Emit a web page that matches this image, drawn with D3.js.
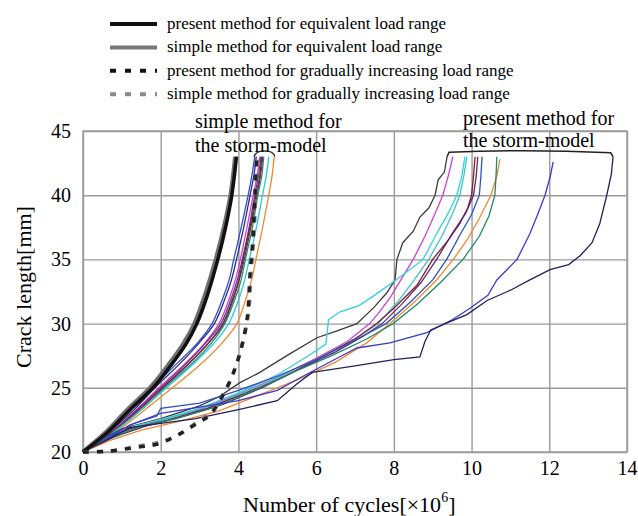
<!DOCTYPE html>
<html>
<head>
<meta charset="utf-8">
<script src="https://cdn.jsdelivr.net/npm/d3@7"></script>
</head>
<body style="margin:0;background:#fff">
<script>
const FONT = "Liberation Serif";

// axis ticks
const xTicks = [0, 2, 4, 6, 8, 10, 12, 14];
const yTicks = [20, 25, 30, 35, 40, 45];

// equivalent load range (thick solid)
const presentEquiv = [[0,20],[0.62,21.5],[1.21,23.3],[1.8,25],[2.3,26.9],[2.65,28.4],[2.93,30],[3.2,32.2],[3.47,35],[3.67,37.5],[3.83,40],[3.95,43]];
const simpleEquiv = [[0,20],[0.58,21.5],[1.15,23.3],[1.73,25],[2.23,26.9],[2.58,28.4],[2.87,30],[3.14,32.2],[3.42,35],[3.63,37.5],[3.8,40],[3.92,43]];

// gradually increasing load range (dashed)
const presentGradual = [[0,20],[0.6,20.05],[1.47,20.4],[1.9,20.6],[2.3,21.1],[2.97,22.3],[3.27,22.9],[3.7,25],[3.99,27.2],[4.22,30.3],[4.3,33.9],[4.37,36.5],[4.43,40.2],[4.47,43]];
const simpleGradual = [[0,20],[0.7,20.1],[1.5,20.5],[2,20.8],[2.5,21.4],[3,22.5],[3.35,23.3],[3.75,25.3],[4.03,27.6],[4.25,30.6],[4.33,34],[4.4,36.8],[4.45,40.3],[4.49,43]];

// simple method for the storm-model
const simpleStorm = [
  { color: "#3050c8", values: [[0,20],[0.4,21],[0.8,22.1],[1.3,23.5],[1.78,25],[2.42,26.9],[2.92,28.4],[3.32,30],[3.6,32],[3.76,33.4],[3.88,35],[4.08,37.6],[4.25,40],[4.35,41.6],[4.42,43]] },
  { color: "#2a2a90", values: [[0,20],[0.45,21],[0.85,22],[1.35,23.4],[1.85,25],[2.5,26.9],[2.99,28.5],[3.38,30],[3.66,32],[3.82,33.4],[3.95,35],[4.13,37.4],[4.3,40],[4.4,41.6],[4.46,43]] },
  { color: "#cc44cc", values: [[0,20],[0.5,21],[0.9,22],[1.45,23.5],[1.95,25],[2.6,26.8],[3.11,28.4],[3.5,30],[3.77,32],[3.93,33.5],[4.05,35],[4.22,37.5],[4.38,40],[4.48,41.5],[4.55,43]] },
  { color: "#7a2a9a", values: [[0,20],[0.5,21],[0.92,22],[1.5,23.6],[2,25],[2.66,26.9],[3.16,28.5],[3.55,30],[3.82,32],[3.98,33.5],[4.1,35],[4.27,37.4],[4.42,40],[4.52,41.6],[4.58,43]] },
  { color: "#404040", values: [[0,20],[0.52,21],[0.95,22],[1.52,23.5],[2.05,25],[2.7,26.8],[3.21,28.4],[3.6,30],[3.86,32],[4.01,33.4],[4.12,35],[4.3,37.6],[4.45,40],[4.55,41.5],[4.6,43]] },
  { color: "#802535", values: [[0,20],[0.5,21],[0.95,22],[1.55,23.6],[2.05,25],[2.72,26.9],[3.23,28.5],[3.62,30],[3.88,32],[4.03,33.5],[4.15,35],[4.32,37.5],[4.48,40],[4.57,41.6],[4.63,43]] },
  { color: "#20907a", values: [[0,20],[0.55,21],[0.97,22],[1.58,23.5],[2.1,25],[2.77,26.8],[3.28,28.4],[3.65,30],[3.92,32],[4.07,33.4],[4.18,35],[4.36,37.5],[4.5,40],[4.6,41.5],[4.65,43]] },
  { color: "#30c8d8", values: [[0,20],[0.55,21],[1,22],[1.62,23.6],[2.15,25],[2.85,26.9],[3.38,28.5],[3.75,30],[4.02,32],[4.17,33.5],[4.28,35],[4.47,37.6],[4.62,40],[4.72,41.6],[4.78,43]] },
  { color: "#f08a30", values: [[0,20],[0.6,21],[1.05,22],[1.72,23.6],[2.3,25],[3.05,26.9],[3.58,28.5],[3.96,30],[4.2,32],[4.34,33.4],[4.45,35],[4.63,37.6],[4.78,40],[4.87,41.6],[4.92,43]] }
];

// present method for the storm-model
const presentStorm = [
  { color: "#3a3a3a", values: [[0,20],[0.5,21],[1,21.8],[2,22.6],[3,23.6],[3.5,24.3],[4.04,25.4],[4.55,26.2],[5.3,27.6],[6.02,28.9],[6.5,29.4],[7.05,30],[7.5,31.3],[7.82,32.4],[8.03,33.4],[8.08,35],[8.23,36.3],[8.5,37.2],[8.67,38.3],[8.9,39],[9.06,40],[9.14,41.2],[9.3,41.8],[9.37,43]] },
  { color: "#d040d0", values: [[0,20],[0.6,21],[1.2,21.9],[2,22.5],[3,23.3],[4,24.5],[5,25.8],[6,27.3],[6.8,28.6],[7.38,30],[7.6,30.8],[7.9,32],[8.2,33.5],[8.5,35],[8.8,36.8],[9.05,38.5],[9.26,40],[9.4,41.5],[9.52,43]] },
  { color: "#30d0e0", values: [[0,20],[0.6,21],[1.3,22],[2.2,22.7],[3,23.4],[4,24.6],[5,26],[5.8,27.5],[6.25,28.4],[6.32,30.3],[6.6,30.9],[7.1,31.4],[7.5,32.2],[8.1,33.5],[8.75,35],[9.1,37],[9.4,38.6],[9.62,40],[9.75,41.5],[9.83,43]] },
  { color: "#40c4c4", values: [[0,20],[0.7,21],[1.5,22],[2.5,22.9],[3.5,23.8],[4.5,25.1],[5.5,26.4],[6.5,28],[7.1,29],[7.6,30],[8.1,31.7],[8.5,33.3],[8.9,35],[9.25,36.9],[9.5,38.5],[9.7,40],[9.8,41.5],[9.88,43]] },
  { color: "#7a2030", values: [[0,20],[0.5,20.9],[1.2,21.8],[2.2,22.5],[3.2,23.4],[4.2,24.6],[5.2,25.9],[6.2,27.5],[7,28.8],[7.56,30],[8,31.2],[8.6,33],[9,35],[9.4,36.5],[9.7,37.8],[9.9,39],[10,40],[10.05,41.5],[10.09,43]] },
  { color: "#5a2a70", values: [[0,20],[0.8,21.2],[1.6,22],[2.6,22.8],[3.6,23.7],[4.6,25],[5.6,26.5],[6.5,27.8],[7.2,29],[7.7,30],[8.2,31.5],[8.7,33.2],[9.1,35],[9.5,37],[9.85,38.6],[10.05,40],[10.12,41.5],[10.16,43]] },
  { color: "#3050c0", values: [[0,20],[0.5,21],[1.3,22.2],[1.9,22.8],[2,23.4],[3,23.8],[4,24.8],[5,25.9],[6,27.2],[7,28.7],[7.8,30],[8.4,31.6],[9,33.4],[9.36,35],[9.7,36.9],[10,38.5],[10.2,40],[10.24,41.5],[10.27,43]] },
  { color: "#f08a30", values: [[0,20],[0.7,20.9],[1.5,21.7],[2.5,22.4],[3.5,23.2],[4.5,24.4],[5.5,25.6],[6.5,27],[7.3,28.5],[7.9,30],[8.5,31.6],[9.1,33.4],[9.53,35],[9.9,36.6],[10.2,38.2],[10.5,40],[10.65,41.5],[10.73,42.8]] },
  { color: "#208a6a", values: [[0,20],[0.6,21],[1.4,21.9],[2.4,22.6],[3.4,23.5],[4.4,24.8],[5.4,26.2],[6.4,27.5],[7.3,28.8],[7.98,30],[8.6,31.5],[9.2,33.2],[9.78,35],[10.2,36.8],[10.45,38.4],[10.6,40],[10.63,41.5],[10.65,43]] },
  { color: "#3a3ad0", values: [[0,20],[0.5,20.8],[1.2,22.1],[2,23],[3,23.5],[4,24],[5,24.8],[5.6,25.8],[6.6,27.4],[7.05,28.1],[7.9,28.5],[8.85,29.3],[9.5,30.3],[9.96,31.2],[10.42,32.2],[10.65,33.4],[10.91,34.2],[11.17,35],[11.5,37],[11.7,38.5],[11.89,40],[12.02,41.4],[12.1,42.6]] },
  { color: "#22225a", values: [[0,20],[0.6,20.9],[1.2,21.9],[2.9,22.6],[4,23.3],[5,24],[5.5,25.3],[5.9,26.2],[7,26.7],[8,27.2],[8.67,27.4],[8.8,28.6],[8.95,29.5],[9.4,30.1],[9.88,30.7],[10.4,31.8],[11,32.6],[11.5,33.4],[12.02,34.2],[12.5,34.6],[12.8,35.3],[13.1,36.3],[13.3,37.8],[13.48,40],[13.6,41.7],[13.64,43]] }
];

const legendItems = [
  { label: "present method for equivalent load range", color: "#111", dash: null },
  { label: "simple method for equivalent load range", color: "#777", dash: null },
  { label: "present method for gradually increasing load range", color: "#111", dash: "6,9" },
  { label: "simple method for gradually increasing load range", color: "#888", dash: "6,9" }
];

const width = 638, height = 516;
const margin = { top: 131, right: 11, bottom: 64, left: 83 };

const svg = d3.select("body").append("svg")
  .attr("width", width)
  .attr("height", height)
  .attr("font-family", FONT);

const x = d3.scaleLinear().domain([0, 14]).range([margin.left, width - margin.right]);
const y = d3.scaleLinear().domain([20, 45]).range([height - margin.bottom, margin.top]);

// serif face forced on a text node
function serif(sel) {
  sel.attr("font-family", FONT).style("font-family", "'Liberation Serif', serif", "important");
}

// width of a label, with a rough fallback
function textWidth(node, fallback) {
  try {
    const w = node.getComputedTextLength();
    return w > 0 ? w : fallback;
  } catch (e) {
    return fallback;
  }
}

// grid
svg.append("g")
  .attr("transform", `translate(0,${height - margin.bottom})`)
  .call(d3.axisBottom(x).tickValues(xTicks).tickSize(-(y.range()[0] - y.range()[1])).tickFormat(""))
  .call(g => g.select(".domain").remove())
  .selectAll("line").attr("stroke", "#9a9a9a").attr("stroke-width", 1.4);

svg.append("g")
  .attr("transform", `translate(${margin.left},0)`)
  .call(d3.axisLeft(y).tickValues(yTicks).tickSize(-(x.range()[1] - x.range()[0])).tickFormat(""))
  .call(g => g.select(".domain").remove())
  .selectAll("line").attr("stroke", "#9a9a9a").attr("stroke-width", 1.4);

svg.append("rect")
  .attr("x", x(0)).attr("y", y(45))
  .attr("width", x(14) - x(0)).attr("height", y(20) - y(45))
  .attr("fill", "none").attr("stroke", "#9a9a9a").attr("stroke-width", 1.4);

// tick labels
const xAxis = svg.append("g")
  .attr("transform", `translate(0,${height - margin.bottom})`)
  .call(d3.axisBottom(x).tickValues(xTicks).tickSize(0).tickPadding(9));
xAxis.select(".domain").remove();
xAxis.attr("font-family", FONT).attr("font-size", 20).attr("fill", null).attr("text-anchor", null);
xAxis.selectAll("text").attr("fill", null).call(serif)
  .attr("x", function(d) { return -textWidth(this, String(d).length * 10) / 2; });

const yAxis = svg.append("g")
  .attr("transform", `translate(${margin.left},0)`)
  .call(d3.axisLeft(y).tickValues(yTicks).tickSize(0).tickPadding(12));
yAxis.select(".domain").remove();
yAxis.attr("font-family", FONT).attr("font-size", 20).attr("fill", null).attr("text-anchor", null);
yAxis.selectAll("text").attr("fill", null).call(serif)
  .attr("x", function(d) { return -12 - textWidth(this, String(d).length * 10); });

const line = d3.line()
  .x(d => x(d[0]))
  .y(d => y(d[1]));
const smooth = d3.line().curve(d3.curveCatmullRom).x(d => x(d[0])).y(d => y(d[1]));

// storm-model curves
svg.append("g")
  .selectAll("path")
  .data(simpleStorm)
  .join("path")
  .attr("fill", "none")
  .attr("stroke", d => d.color)
  .attr("stroke-width", 1.3)
  .attr("d", d => smooth(d.values));

svg.append("g")
  .selectAll("path")
  .data(presentStorm)
  .join("path")
  .attr("fill", "none")
  .attr("stroke", d => d.color)
  .attr("stroke-width", 1.3)
  .attr("d", d => line(d.values));

// equivalent load range
svg.append("path").datum(simpleEquiv)
  .attr("fill", "none").attr("stroke", "#6e6e6e").attr("stroke-width", 4.5).attr("d", smooth);
svg.append("path").datum(presentEquiv)
  .attr("fill", "none").attr("stroke", "#111").attr("stroke-width", 3.5).attr("d", smooth);

// gradually increasing load range
svg.append("path").datum(simpleGradual)
  .attr("fill", "none").attr("stroke", "#888").attr("stroke-width", 3.5)
  .attr("stroke-dasharray", "6,8").attr("d", smooth);
svg.append("path").datum(presentGradual)
  .attr("fill", "none").attr("stroke", "#222").attr("stroke-width", 3.5)
  .attr("stroke-dasharray", "6,8").attr("d", smooth);

// annotations
const ann = svg.append("g").attr("font-size", 20);
ann.append("text").attr("x", 195).attr("y", 128).text("simple method for");
ann.append("text").attr("x", 195).attr("y", 152).text("the storm-model");
ann.append("text").attr("x", 463).attr("y", 125).text("present method for");
ann.append("text").attr("x", 463).attr("y", 147).text("the storm-model");

// brackets
svg.append("path")
  .attr("fill", "none").attr("stroke", "#222").attr("stroke-width", 1.3)
  .attr("d", `M${x(4.4)},${y(43)} Q${x(4.45)},${y(43.45)} ${x(4.67)},${y(43.45)} Q${x(4.9)},${y(43.45)} ${x(4.94)},${y(43)}`);
svg.append("path")
  .attr("fill", "none").attr("stroke", "#222").attr("stroke-width", 1.5)
  .attr("d", `M${x(9.37)},${y(43)} L${x(9.42)},${y(43.35)} Q${x(11.5)},${y(43.6)} ${x(13.58)},${y(43.3)} L${x(13.64)},${y(43)}`);

// axis titles
const titles = svg.append("g").attr("font-size", 22);
const xMain = titles.append("text").attr("x", 243).attr("y", 512).call(serif).text("Number of cycles[×10");
const w1 = textWidth(xMain.node(), 196);
const xSup = titles.append("text").attr("x", 243 + w1).attr("y", 502).attr("font-size", 14).call(serif).text("6");
const w2 = textWidth(xSup.node(), 7);
titles.append("text").attr("x", 243 + w1 + w2).attr("y", 512).call(serif).text("]");

const yTitle = titles.append("text").call(serif).text("Crack length[mm]");
const wy = textWidth(yTitle.node(), 164);
yTitle.attr("transform", "translate(31,287) rotate(-90)").attr("x", -wy / 2);

// legend
const legend = svg.append("g").attr("font-size", 17);
const rows = legend.selectAll("g").data(legendItems).join("g")
  .attr("transform", (d, i) => `translate(110,${24 + i * 23.4})`);
rows.append("line")
  .attr("x1", 0).attr("x2", 47).attr("y1", 0).attr("y2", 0)
  .attr("stroke", d => d.color).attr("stroke-width", 4)
  .attr("stroke-dasharray", d => d.dash);
rows.append("text").attr("x", 57).attr("y", 5).text(d => d.label);
</script>
</body>
</html>
